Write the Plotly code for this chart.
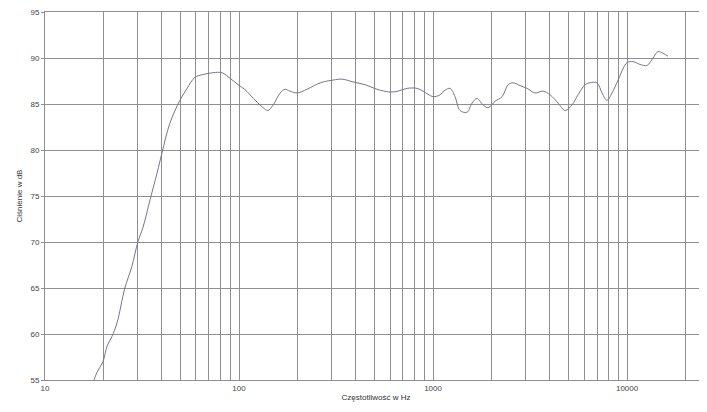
import plotly.graph_objects as go

# frequency response
freq_hz = [
    17.9, 18.5, 19.9, 20.9, 22.1, 23.5, 25.8, 28.0, 30.1, 32.0, 34.8, 37.8,
    40.1, 44.0, 49.6, 54.0, 59.3, 65.2, 73.4, 81.7, 89.9, 98.8, 107, 114,
    124, 133, 141, 150, 163, 173, 183, 199, 224, 262, 305, 340, 387, 446,
    514, 600, 660, 735, 828, 888, 1000, 1087, 1153, 1224, 1298, 1377, 1497,
    1589, 1686, 1811, 1923, 2089, 2270, 2438, 2585, 2809, 3052, 3356, 3690,
    4010, 4410, 4790, 5200, 5590, 6080, 6440, 7000, 7430, 7880, 8370, 8990,
    10000, 10750, 11670, 12690, 13610, 14450, 15340, 16260,
]
level_db = [
    55.0, 55.8, 57.0, 58.7, 59.7, 61.2, 65.0, 67.3, 70.0, 71.6, 74.6, 77.5,
    79.7, 82.9, 85.4, 86.7, 87.9, 88.2, 88.4, 88.4, 87.8, 87.1, 86.6, 86.0,
    85.2, 84.6, 84.3, 84.9, 86.2, 86.6, 86.4, 86.2, 86.6, 87.3, 87.6, 87.7,
    87.4, 87.1, 86.6, 86.3, 86.4, 86.7, 86.7, 86.4, 85.8, 86.0, 86.5, 86.7,
    85.8, 84.3, 84.1, 85.1, 85.6, 84.9, 84.6, 85.3, 85.8, 87.1, 87.3, 87.0,
    86.7, 86.2, 86.4, 86.0, 85.1, 84.3, 84.9, 86.0, 87.1, 87.3, 87.3, 86.2,
    85.4, 86.2, 87.6, 89.5, 89.6, 89.3, 89.2, 90.0, 90.7, 90.5, 90.2,
]

grid_freqs = [m * 10 ** d for d in range(1, 5) for m in range(1, 10)] + [20000]
grid_text = [str(f) if str(f).strip("0") == "1" else "" for f in grid_freqs]
db_ticks = [55, 60, 65, 70, 75, 80, 85, 90, 95]

GRID = "#8f8f8f"

fig = go.Figure(
    go.Scatter(
        x=freq_hz, y=level_db, mode="lines",
        line={"color": "#75758f", "width": 1, "shape": "spline"},
        showlegend=False,
    )
)
fig.update_xaxes(
    type="log", range=[1, 4.412], automargin=False,
    tickvals=grid_freqs, ticktext=grid_text,
    showgrid=True, gridcolor=GRID, gridwidth=1,
    showline=True, mirror=True, linecolor=GRID, zeroline=False,
    ticks="", tickfont={"size": 8, "color": "#444"},
    title={"text": "Częstotliwość w Hz", "font": {"size": 8, "color": "#333"}, "standoff": 2},
)
fig.update_yaxes(
    range=[55, 95], tickvals=db_ticks, automargin=False,
    ticklabeloverflow="allow",
    showgrid=True, gridcolor=GRID, gridwidth=1,
    showline=True, linecolor=GRID, zeroline=False,
    ticks="outside", ticklen=3, tickcolor=GRID,
    tickfont={"size": 8, "color": "#444"},
    title={"text": "Ciśnienie w dB", "font": {"size": 8, "color": "#333"}, "standoff": 6},
)
# the page body adds an 8px offset, so the figure is 8px smaller than the window
fig.update_layout(
    width=699, height=404,
    margin={"l": 37, "r": 0, "t": 4, "b": 32},
    paper_bgcolor="white", plot_bgcolor="white",
    font={"family": "Liberation Sans, Arial, sans-serif"},
)
fig.write_html("out.html")
